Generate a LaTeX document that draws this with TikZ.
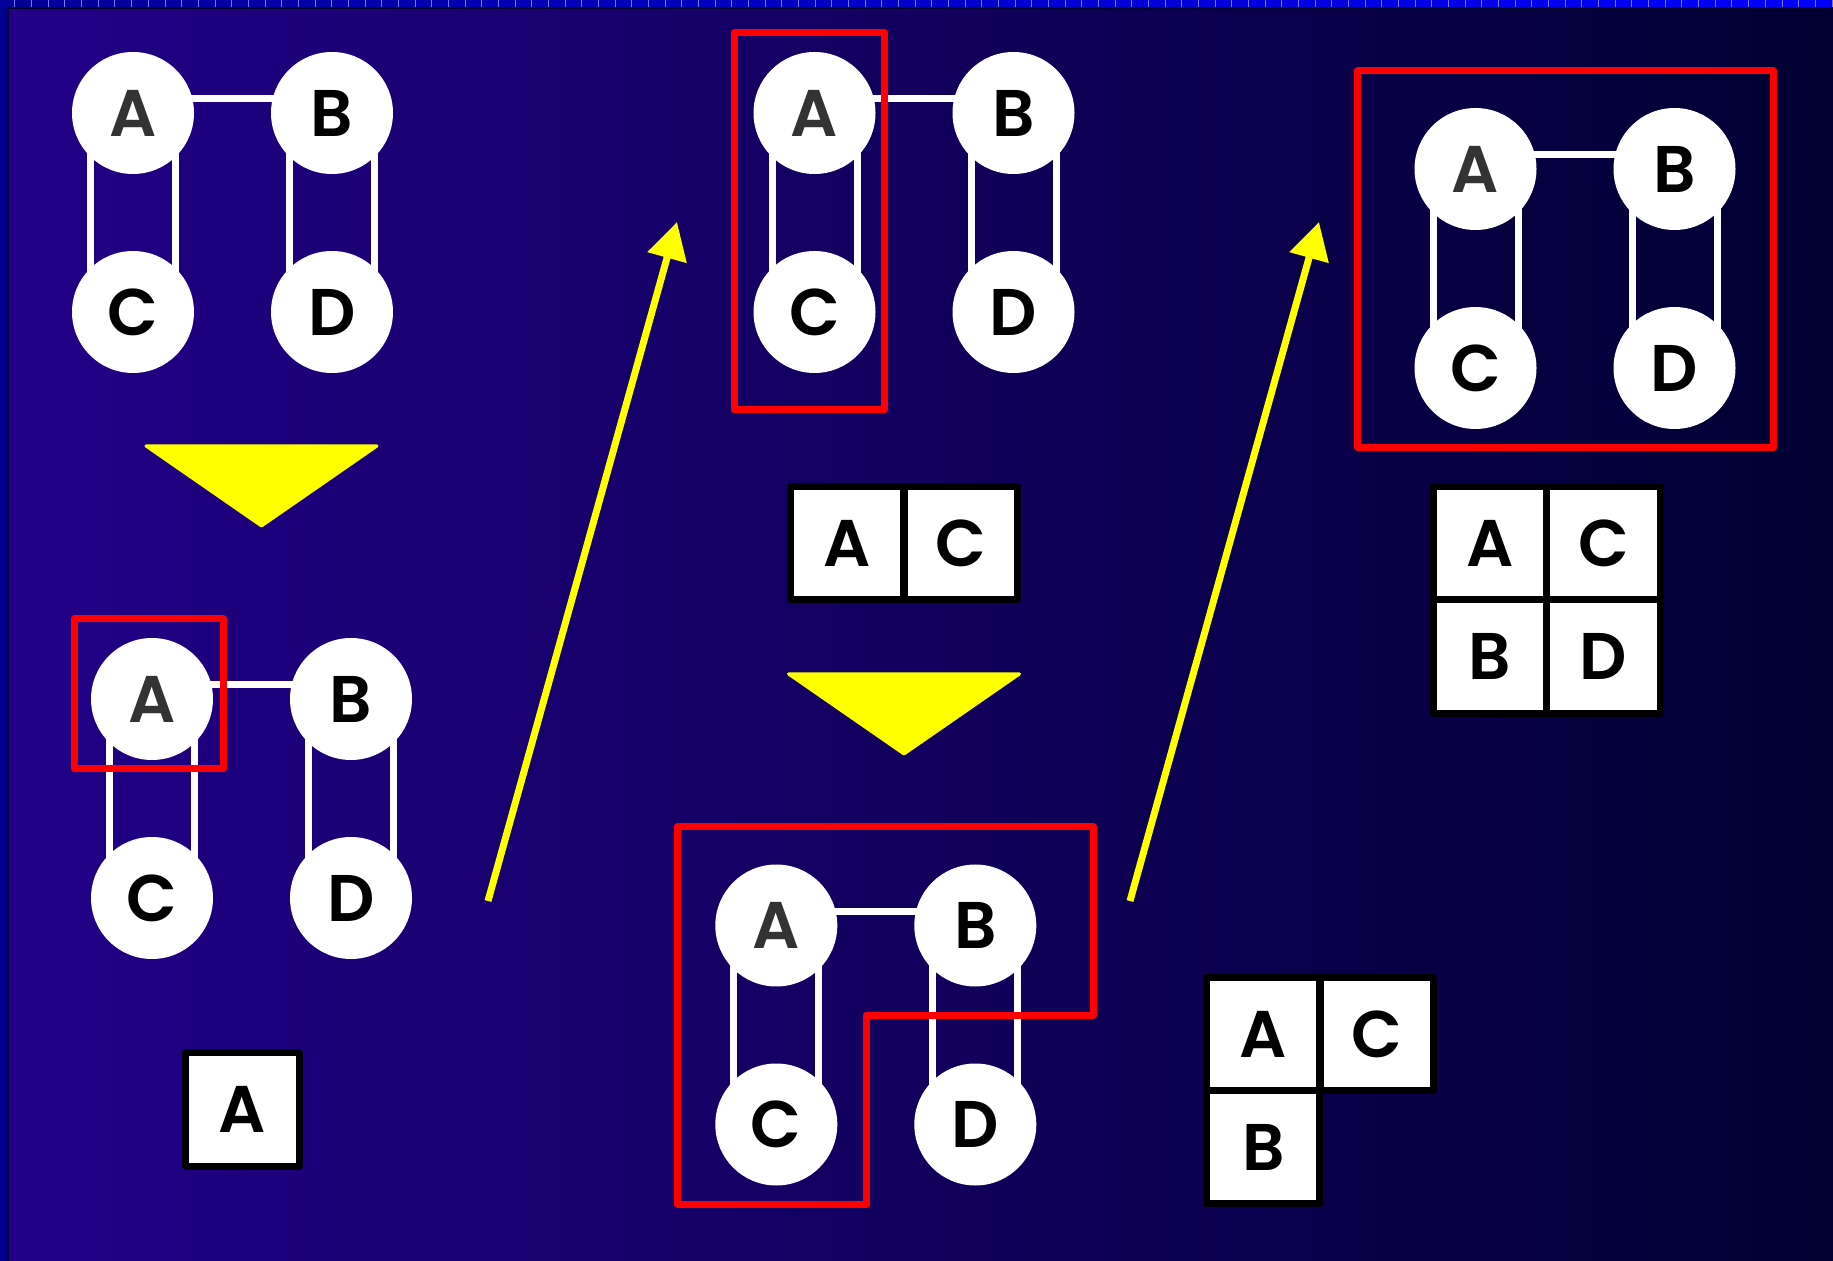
\documentclass[tikz,border=0pt]{standalone}
\usepackage{fontspec}
\newfontfamily\labfont{Poppins}[BoldFont={* SemiBold}]
\usetikzlibrary{arrows.meta}

\pgfdeclarelayer{backdrop}
\pgfdeclarelayer{edges}
\pgfsetlayers{backdrop,edges,main}

\definecolor{bgleft}{RGB}{34,0,136}
\definecolor{bgright}{RGB}{0,0,50}
\definecolor{stripleft}{RGB}{0,0,150}
\definecolor{stripright}{RGB}{0,0,255}
\definecolor{sidebar}{RGB}{0,0,140}
\definecolor{tick}{RGB}{120,120,255}
\definecolor{rule}{RGB}{0,0,40}
\definecolor{hilite}{RGB}{255,0,0}
\definecolor{flow}{RGB}{255,255,0}
\definecolor{greyA}{RGB}{51,51,51}

\tikzset{
  letters/.style={font=\labfont\bfseries\fontsize{33pt}{33pt}\selectfont},
  vertex/.style={circle, fill=white, minimum size=61pt, inner sep=0pt, letters},
  link/.style={draw=white, line width=3.5pt},
  cell/.style={rectangle, draw=black, fill=white, line width=3.5pt,
    minimum size=56.67pt, inner sep=0pt, line join=round, letters},
  frame/.style={draw=hilite, line width=3.5pt, line join=round},
  flowarrow/.style={draw=flow, line width=3.5pt, -{Triangle[length=18.5pt,width=19.5pt]}},
  wedge/.style={fill=flow, draw=flow, line width=1.5pt, line join=round},
}

% four-vertex graph: #1 name prefix, (#2,#3) centre of vertex A
\newcommand\quadgraph[3]{%
  \node[vertex, text=greyA] (#1a) at (#2,#3) {A};
  \node[vertex] (#1b) at (#2+199,#3) {B};
  \node[vertex] (#1c) at (#2,#3+199) {C};
  \node[vertex] (#1d) at (#2+199,#3+199) {D};
  \begin{pgfonlayer}{edges}
    \draw[link] ([yshift=7pt]#1a.center) -- ([yshift=7pt]#1b.center);
    \draw[link] ([xshift=-21.25pt]#1a.center) -- ([xshift=-21.25pt]#1c.center);
    \draw[link] ([xshift=21.25pt]#1a.center) -- ([xshift=21.25pt]#1c.center);
    \draw[link] ([xshift=-21.25pt]#1b.center) -- ([xshift=-21.25pt]#1d.center);
    \draw[link] ([xshift=21.25pt]#1b.center) -- ([xshift=21.25pt]#1d.center);
  \end{pgfonlayer}
}

\begin{document}
\begin{tikzpicture}[x=0.5pt, y=-0.5pt]
\useasboundingbox (0,0) rectangle (1833,1261);

% backdrop
\begin{pgfonlayer}{backdrop}
  \shade[left color=bgleft, right color=bgright] (0,0) rectangle (1833,1261);
  \shade[left color=stripleft, right color=stripright] (0,0) rectangle (1833,7.5);
  \foreach \i in {1,...,110}
    \draw[tick, line width=0.5pt] (\i*16.67-1.7,0) -- (\i*16.67-1.7,7.5);
  \fill[sidebar] (0,7.5) rectangle (7,1261);
  \draw[rule, line width=1pt] (7.5,1261) -- (7.5,7.8) -- (1833,7.8);
\end{pgfonlayer}

% graphs
\quadgraph{p}{133}{113}
\quadgraph{q}{152}{699}
\quadgraph{r}{814.5}{113}
\quadgraph{s}{776.3}{925.5}
\quadgraph{t}{1475.5}{169}

% selections
\draw[frame] (74.5,619) rectangle (223,768.5);
\draw[frame] (734,32.7) rectangle (884.7,410);
\draw[frame] (677.7,826.7) -- (1093.3,826.7) -- (1093.3,1015) -- (866,1015)
  -- (866,1204) -- (677.7,1204) -- cycle;
\draw[frame] (1357.5,71) rectangle (1773.7,447.6);

% down wedges
\path[wedge] (146,446) -- (377,446) -- (261.5,526) -- cycle;
\path[wedge] (788.5,674) -- (1019.5,674) -- (904,754) -- cycle;

% result tables
\node[cell] (ka) at (242.5,1109.4) {A};

\node[cell] (la) at (847.3,543.2) {A};
\node[cell] (lc) at (960.7,543.2) {C};

\node[cell] (ma) at (1263.3,1034) {A};
\node[cell] (mc) at (1376.7,1034) {C};
\node[cell] (mb) at (1263.3,1147.3) {B};

\node[cell] (na) at (1490.2,543.2) {A};
\node[cell] (nc) at (1603.5,543.2) {C};
\node[cell] (nb) at (1490.2,656.5) {B};
\node[cell] (nd) at (1603.5,656.5) {D};

% progress arrows
\coordinate (u1) at (488,901);
\coordinate (v1) at (677,222);
\coordinate (u2) at (1130,901);
\coordinate (v2) at (1319,222);
\draw[flowarrow] (u1) -- (v1);
\draw[flowarrow] (u2) -- (v2);
\end{tikzpicture}
\end{document}
